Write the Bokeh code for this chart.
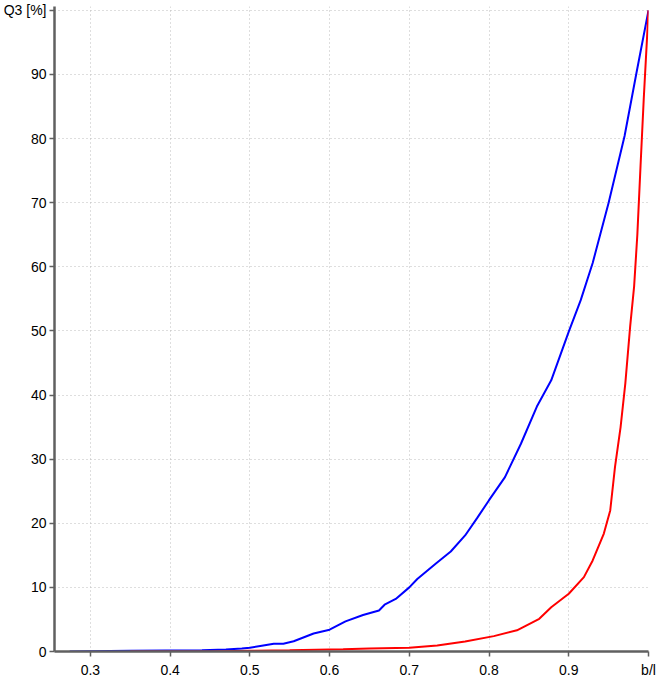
from bokeh.plotting import figure
from bokeh.models import FixedTicker, Range1d
from bokeh.embed import file_html
from bokeh.resources import INLINE

# ---- data ----
blue_x = [0.274, 0.35, 0.44, 0.47, 0.49, 0.50, 0.515, 0.53, 0.542, 0.555, 0.58, 0.60,
          0.62, 0.642, 0.662, 0.669, 0.683, 0.70, 0.71, 0.733, 0.752, 0.77, 0.785, 0.80,
          0.82, 0.84, 0.86, 0.878, 0.90, 0.915, 0.93, 0.95, 0.97, 0.985, 1.0]
blue_y = [0, 0.1, 0.2, 0.3, 0.45, 0.6, 0.9, 1.2, 1.2, 1.6, 2.8, 3.4,
          4.7, 5.7, 6.4, 7.3, 8.2, 10.0, 11.3, 13.7, 15.6, 18.1, 20.8, 23.6,
          27.2, 32.4, 38.2, 42.3, 49.9, 54.8, 60.6, 70.0, 80.4, 90.3, 100]

red_x = [0.35, 0.45, 0.5, 0.55, 0.617, 0.65, 0.70, 0.735, 0.77, 0.806, 0.835, 0.863,
         0.878, 0.90, 0.919, 0.93, 0.944, 0.952, 0.958, 0.965, 0.971, 0.977, 0.982,
         0.986, 0.990, 0.994, 1.0]
red_y = [0, 0, 0.1, 0.2, 0.35, 0.45, 0.6, 0.95, 1.55, 2.4, 3.3, 5.1,
         6.9, 9.0, 11.6, 14.2, 18.4, 22.0, 28.8, 35.0, 41.9, 50.7, 57.0,
         65.0, 75.7, 86.1, 100]

x_ticks = [0.3, 0.4, 0.5, 0.6, 0.7, 0.8, 0.9, 1.0]
x_tick_labels = ["0.3", "0.4", "0.5", "0.6", "0.7", "0.8", "0.9", "b/l"]
y_ticks = [0, 10, 20, 30, 40, 50, 60, 70, 80, 90, 100]
y_tick_labels = ["0", "10", "20", "30", "40", "50", "60", "70", "80", "90", "Q3 [%]"]

FONT = "Liberation Sans"
FSIZE = "14px"

p = figure(width=656, height=684, output_backend="svg", toolbar_location=None,
           x_range=Range1d(0.255, 1.0), y_range=Range1d(0, 100.6),
           min_border_left=52, min_border_right=8, min_border_top=6, min_border_bottom=33)
p.outline_line_color = None
p.background_fill_color = "white"
p.border_fill_color = "white"

for ax in (p.xaxis[0], p.yaxis[0]):
    ax.axis_line_color = "#606060"
    ax.axis_line_width = 2.5
    ax.major_tick_line_color = "#606060"
    ax.major_tick_line_width = 1.5
    ax.major_tick_out = 5
    ax.major_tick_in = 0
    ax.minor_tick_line_color = None
    ax.major_label_text_font = FONT
    ax.major_label_text_font_size = FSIZE
    ax.major_label_text_color = "black"

p.xaxis[0].ticker = FixedTicker(ticks=x_ticks)
p.xaxis[0].major_label_overrides = dict(zip(x_ticks, x_tick_labels))
p.xaxis[0].major_label_standoff = 5
p.yaxis[0].ticker = FixedTicker(ticks=y_ticks)
p.yaxis[0].major_label_overrides = dict(zip(y_ticks, y_tick_labels))
p.yaxis[0].major_label_standoff = 3

p.xgrid[0].ticker = FixedTicker(ticks=x_ticks)
p.ygrid[0].ticker = FixedTicker(ticks=y_ticks)
for g in (p.xgrid[0], p.ygrid[0]):
    g.grid_line_color = "#bdbdbd"
    g.grid_line_dash = "1 3"
    g.grid_line_width = 1

p.line(blue_x, blue_y, line_color="#0000ff", line_width=2)
p.line(red_x, red_y, line_color="#ff0000", line_width=2)

open("out.html", "w").write(file_html(p, INLINE))
